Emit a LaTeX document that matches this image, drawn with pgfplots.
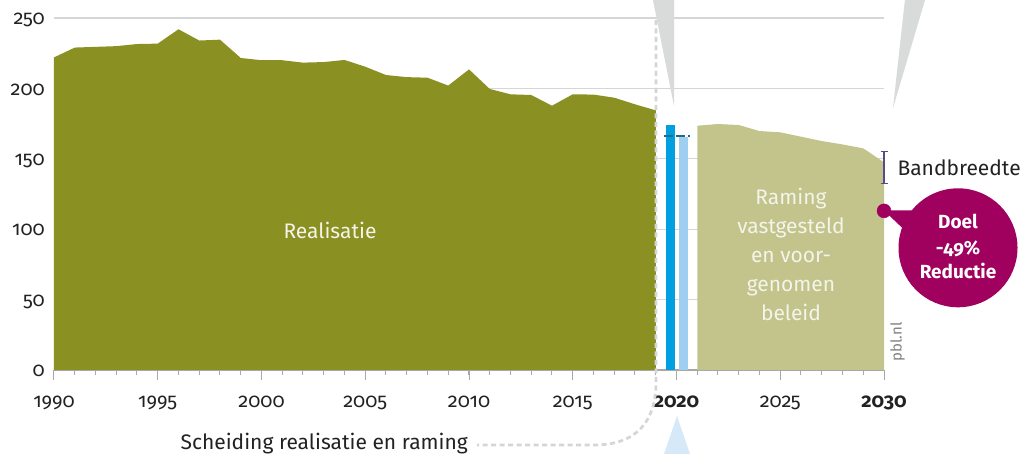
\documentclass[border=0pt]{standalone}
\usepackage{fontspec}
\setmainfont{Fira Sans}[Numbers=OldStyle]
\usepackage{pgfplots}
\pgfplotsset{compat=1.18}
\definecolor{darkolive}{HTML}{8B9023}
\definecolor{lightolive}{HTML}{C2C48B}
\definecolor{barblue}{HTML}{009FDF}
\definecolor{lightblue}{HTML}{9FCFF0}
\definecolor{dashcol}{HTML}{1D6A8A}
\definecolor{doel}{HTML}{A0005E}
\definecolor{bracketcol}{HTML}{5A4A8A}
\definecolor{gridgray}{HTML}{D6D6D6}
\definecolor{axgray}{HTML}{A8A8A8}
\definecolor{trigray}{HTML}{D9DADA}
\definecolor{triblue}{HTML}{D6E9F8}
\definecolor{sepgray}{HTML}{D5D5D5}
\definecolor{txt}{HTML}{222222}
\definecolor{lighttxt}{HTML}{F4F4EA}
\newcommand{\tickfont}{\fontsize{20}{24}\selectfont}
\begin{document}
\begin{tikzpicture}
\begin{axis}[
  at={(0pt,0pt)}, anchor=south west, scale only axis,
  width=830pt, height=352pt,
  xmin=1990, xmax=2030, ymin=0, ymax=250, clip=false,
  axis x line*=bottom, axis y line*=left,
  y axis line style={draw=none},
  x axis line style={draw=axgray, line width=1.2pt},
  xtick={1990,1995,...,2030},
  xticklabels={1990,1995,2000,2005,2010,2015,\textbf{2020},2025,\textbf{2030}},
  minor xtick={1991,...,2029},
  tick align=outside,
  major tick length=10pt, minor tick length=5pt,
  x tick style={draw=axgray, line width=1pt},
  ytick={0,50,...,250}, yticklabels={0,50,100,150,200,250},
  y tick style={draw=none},
  ymajorgrids, grid style={draw=gridgray, line width=1.3pt},
  tick label style={font=\tickfont, text=txt},
  xticklabel style={anchor=base, yshift=-27.5pt},
  yticklabel style={anchor=base east, inner sep=0pt, xshift=1pt, yshift=-6.8pt},
]
\addplot[fill=darkolive, draw=none] coordinates {
 (1990,222) (1991,229) (1992,229.5) (1993,230) (1994,231.5) (1995,231.8)
 (1996,242) (1997,234) (1998,234.6) (1999,221.6) (2000,220) (2001,220)
 (2002,218.3) (2003,218.7) (2004,220.2) (2005,215.4) (2006,209.5) (2007,208)
 (2008,207.6) (2009,202) (2010,213.5) (2011,199.6) (2012,195.8) (2013,195.3)
 (2014,187.7) (2015,195.8) (2016,195.6) (2017,193.4) (2018,188.7) (2019,184.4)
} \closedcycle;
\addplot[fill=lightolive, draw=none] coordinates {
 (2021,173.5) (2022,174.7) (2023,174) (2024,169.7) (2025,168.8) (2026,165.7)
 (2027,162.6) (2028,160.2) (2029,157.4) (2030,147.5)
} \closedcycle;
\addplot[ybar, bar width=9pt, bar shift=0pt, fill=barblue, draw=none] coordinates {(2019.71,174)};
\addplot[ybar, bar width=9pt, bar shift=0pt, fill=lightblue, draw=none] coordinates {(2020.34,165.3)};
\addplot[dashcol, line width=2.5pt, dash pattern=on 9pt off 3pt] coordinates {(2019.40,166.2) (2020.65,166.2)};
\addplot[bracketcol, line width=1.3pt] coordinates {(2030,132.5) (2030,155)};
\addplot[only marks, mark=*, mark size=7pt, color=doel] coordinates {(2030,113)};
\end{axis}
% decorations (pt coordinates, origin = lower-left corner of the axis)
\draw[bracketcol, line width=1.3pt] (826.5pt,186.6pt) -- (833.5pt,186.6pt);
\draw[bracketcol, line width=1.3pt] (826.5pt,218.2pt) -- (833.5pt,218.2pt);
\draw[sepgray, line width=2.7pt, dash pattern=on 5pt off 3.5pt]
  (602pt,350pt) -- (602pt,-12pt) .. controls (602pt,-52pt) and (582pt,-75pt) .. (540pt,-75pt) -- (423pt,-75pt);
\fill[trigray] (597pt,380pt) -- (620pt,380pt) -- (620pt,264pt) -- cycle;
\fill[trigray] (852pt,380pt) -- (874pt,380pt) -- (839pt,262pt) -- cycle;
\fill[triblue] (623pt,-46pt) -- (639.4pt,-94pt) -- (606.6pt,-94pt) -- cycle;
\fill[doel] (904pt,122.2pt) circle (59.5pt);
\fill[doel] (830pt,159.5pt) -- (871pt,159.5pt) -- (861pt,130pt) -- cycle;
\begin{scope}[every node/.style={inner sep=0pt}]
\node[anchor=base, text=white, font=\bfseries\fontsize{19}{23}\selectfont] at (904pt,141.7pt) {Doel};
\node[anchor=base, text=white, font=\bfseries\fontsize{19}{23}\selectfont] at (904pt,115pt) {-49\%};
\node[anchor=base, text=white, font=\bfseries\fontsize{19}{23}\selectfont] at (904pt,91.7pt) {Reductie};
\node[anchor=base west, text=txt, font=\fontsize{21}{25}\selectfont] at (843.3pt,194pt) {Bandbreedte};
\node[anchor=base, text=lighttxt, font=\fontsize{21}{25}\selectfont] at (276pt,131.7pt) {Realisatie};
\node[anchor=base, text=lighttxt, font=\fontsize{21}{25}\selectfont] at (737pt,165pt) {Raming};
\node[anchor=base, text=lighttxt, font=\fontsize{21}{25}\selectfont] at (737pt,136pt) {vastgesteld};
\node[anchor=base, text=lighttxt, font=\fontsize{21}{25}\selectfont] at (737pt,107pt) {en voor-};
\node[anchor=base, text=lighttxt, font=\fontsize{21}{25}\selectfont] at (737pt,78pt) {genomen};
\node[anchor=base, text=lighttxt, font=\fontsize{21}{25}\selectfont] at (737pt,49pt) {beleid};
\node[anchor=base west, rotate=90, text=gray, font=\fontsize{15}{18}\selectfont] at (847.7pt,8.3pt) {pbl.nl};
\node[anchor=base east, text=txt, font=\fontsize{21}{25}\selectfont] at (414pt,-80pt) {Scheiding realisatie en raming};
\end{scope}
\pgfresetboundingbox
\useasboundingbox (-54pt,-84pt) rectangle (970pt,370pt);
\end{tikzpicture}
\end{document}
